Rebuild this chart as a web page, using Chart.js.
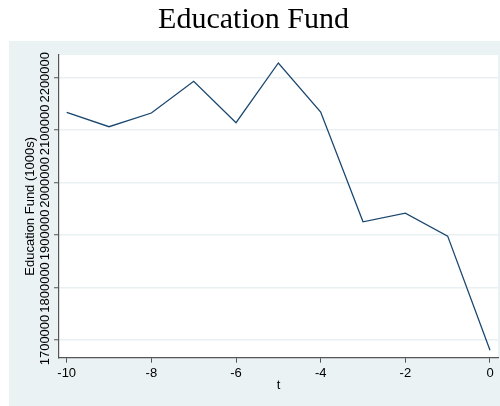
<!DOCTYPE html>
<html>
<head>
<meta charset="utf-8">
<script src="https://cdn.jsdelivr.net/npm/chart.js@4.4.1/dist/chart.umd.min.js"></script>
<style>
  html, body { margin: 0; padding: 0; background: #fff; }
  #wrap { width: 500px; height: 406px; }
</style>
</head>
<body>
<div id="wrap"><canvas id="fundChart"></canvas></div>
<script>
// values
const tValues = [-10, -9, -8, -7, -6, -5, -4, -3, -2, -1, 0];
const fundValues = [2133300, 2105900, 2132000, 2192400, 2113500, 2227200, 2133900, 1925000, 1941500, 1897700, 1680600];
const xTicks = [-10, -8, -6, -4, -2, 0];
const yTicks = [1700000, 1800000, 1900000, 2000000, 2100000, 2200000];

const outerBg = "#eaf2f3";
const axisColor = "#555555";
const lineColor = "#1a476f";

const backgroundPlugin = {
    id: "stataBackground",
    beforeDraw(chart) {
        const ctx = chart.ctx;
        const area = chart.chartArea;
        ctx.save();
        ctx.fillStyle = "#ffffff";
        ctx.fillRect(0, 0, chart.width, chart.height);
        ctx.fillStyle = outerBg;
        ctx.fillRect(9, 41, chart.width - 9, chart.height - 41);
        ctx.fillStyle = "#ffffff";
        ctx.fillRect(area.left, area.top, area.right - area.left, area.bottom - area.top);
        ctx.restore();
    }
};

// vertical y tick labels, centred on their ticks
const yLabelPlugin = {
    id: "verticalYLabels",
    afterDraw(chart) {
        const ctx = chart.ctx;
        const scale = chart.scales.y;
        ctx.save();
        ctx.font = '13px "Liberation Sans", Arial, sans-serif';
        ctx.fillStyle = "#000";
        ctx.textAlign = "center";
        ctx.textBaseline = "middle";
        scale.ticks.forEach(tick => {
            const py = scale.getPixelForValue(tick.value);
            ctx.save();
            ctx.translate(scale.right - 14, py);
            ctx.rotate(-Math.PI / 2);
            ctx.fillText(String(tick.value), 0, 0);
            ctx.restore();
        });
        ctx.restore();
    }
};

const ctx = document.getElementById("fundChart").getContext("2d");
new Chart(ctx, {
    type: "line",
    data: {
        datasets: [{
            label: "Education Fund (1000s)",
            data: tValues.map((t, i) => ({ x: t, y: fundValues[i] })),
            borderColor: lineColor,
            borderWidth: 1.3,
            pointRadius: 0,
            tension: 0,
            fill: false
        }]
    },
    options: {
        responsive: true,
        maintainAspectRatio: false,
        animation: false,
        layout: { padding: { left: 9, right: 2, top: 0, bottom: 0 } },
        plugins: {
            legend: { display: false },
            tooltip: { enabled: false },
            title: {
                display: true,
                text: "Education Fund",
                color: "#000",
                font: { family: '"Liberation Serif", "Times New Roman", serif', size: 30, weight: "normal" },
                padding: { top: 2.4, bottom: 16.6 }
            }
        },
        scales: {
            x: {
                type: "linear",
                min: -10.182,
                max: 0.189,
                afterBuildTicks: s => { s.ticks = xTicks.map(v => ({ value: v })); },
                afterFit: s => { s.height = 48.3; s.paddingLeft = 0; s.paddingRight = 0; },
                ticks: {
                    color: "#000",
                    padding: 2.5,
                    maxRotation: 0,
                    font: { family: '"Liberation Sans", Arial, sans-serif', size: 13 }
                },
                grid: {
                    drawOnChartArea: false,
                    drawTicks: true,
                    tickLength: 5,
                    tickColor: axisColor,
                    tickWidth: 1
                },
                border: { color: axisColor, width: 1.2 },
                title: {
                    display: true,
                    text: "t",
                    color: "#000",
                    font: { family: '"Liberation Sans", Arial, sans-serif', size: 13 },
                    padding: { top: 0, bottom: 13.2 }
                }
            },
            y: {
                type: "linear",
                min: 1666300,
                max: 2242400,
                afterBuildTicks: s => { s.ticks = yTicks.map(v => ({ value: v })); },
                afterFit: s => { s.width = 50; s.paddingTop = 0; s.paddingBottom = 0; },
                ticks: { display: false },
                grid: {
                    color: "#e8f0f1",
                    lineWidth: 1.5,
                    drawTicks: true,
                    tickLength: 5,
                    tickColor: axisColor,
                    tickWidth: 1
                },
                border: { color: axisColor, width: 1.2 },
                title: {
                    display: true,
                    text: "Education Fund (1000s)",
                    color: "#000",
                    font: { family: '"Liberation Sans", Arial, sans-serif', size: 13 },
                    padding: { top: 13.2, bottom: 0 }
                }
            }
        }
    },
    plugins: [backgroundPlugin, yLabelPlugin]
});
</script>
</body>
</html>
